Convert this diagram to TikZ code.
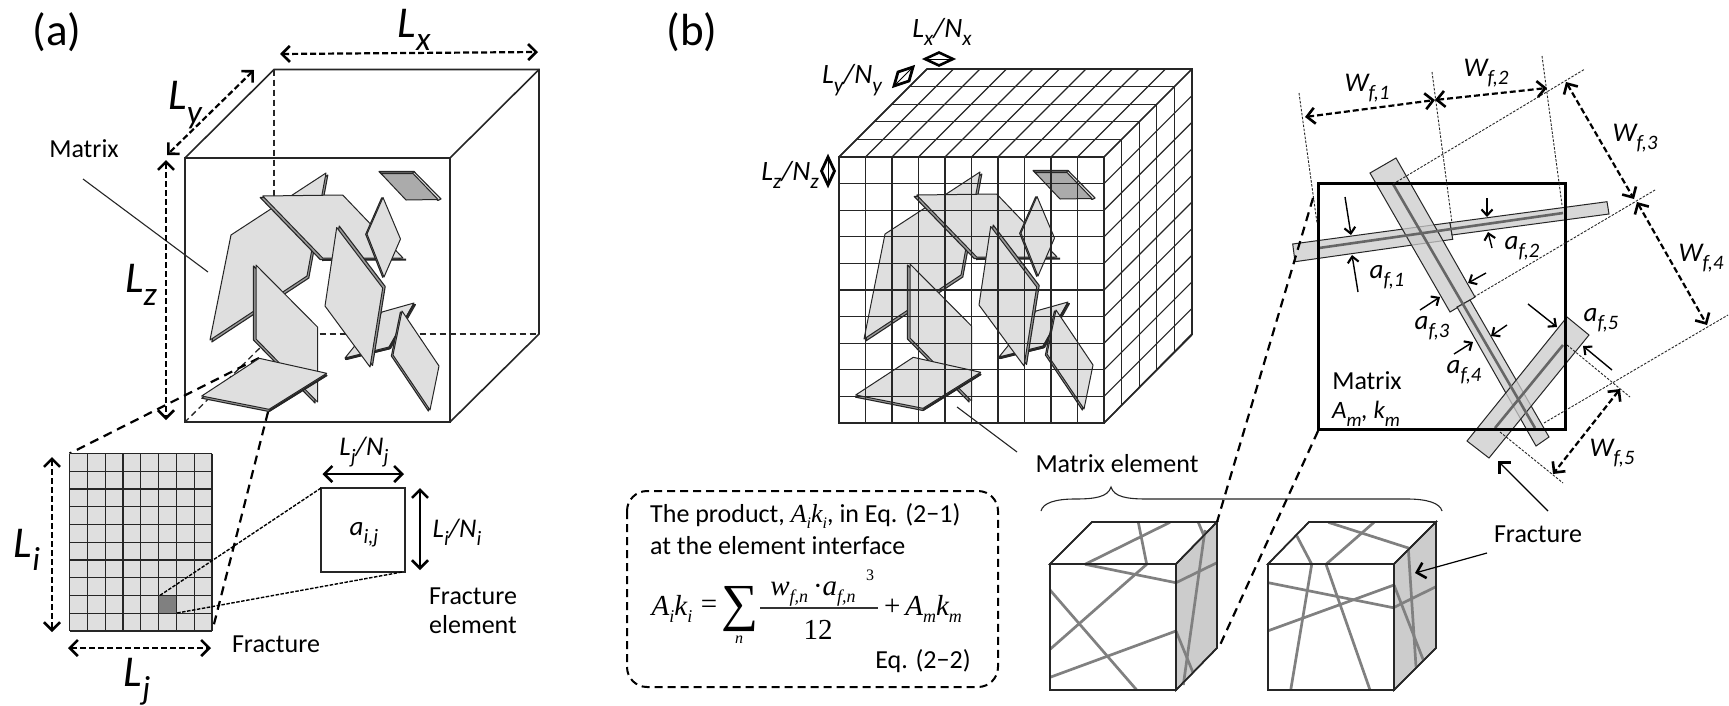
\documentclass[tikz,border=0pt]{standalone}
\usepackage{fontspec}
\setmainfont{Carlito}
\newfontfamily\tms{Liberation Serif}
\usetikzlibrary{arrows.meta}
\newcommand{\fz}[1]{\fontsize{#1}{#1}\selectfont}
\newcommand{\sbx}[1]{\raisebox{-.3em}{\scalebox{.76}{#1}}}
\newcommand{\sbt}[1]{\raisebox{-.22em}{\scalebox{.62}{#1}}}
\colorlet{edge}{black!85}
\definecolor{face}{HTML}{DFDFDF}
\definecolor{bevel}{HTML}{9A9A9A}
\tikzset{
 x=1pt,y=-1pt,
 plateface/.style={draw=edge,line width=1pt,fill=face,line join=round},
 plateback/.style={draw=edge,line width=1.1pt,fill=bevel,line join=round},
 cubeline/.style={draw=edge,line width=1.6pt,line join=miter},
 gridline/.style={draw=edge,line width=1.15pt},
 hiddenline/.style={draw=edge,line width=1.3pt,dash pattern=on 6pt off 4pt},
 zoomline/.style={draw=black,line width=2.2pt,dash pattern=on 9pt off 6pt},
 leader/.style={draw=edge,line width=1.1pt},
 thindash/.style={draw=edge,line width=.9pt,dash pattern=on 2.5pt off 1.5pt},
 midash/.style={draw=black,line width=1.4pt,dash pattern=on 3.5pt off 1.5pt},
 dimarrow/.style={draw=black,line width=2.2pt,dash pattern=on 6pt off 3pt,
   {Straight Barb[length=8pt,width=16pt,line width=2.6pt]}-{Straight Barb[length=8pt,width=16pt,line width=2.6pt]}},
 solidboth/.style={draw=black,line width=1.2pt,
   {Straight Barb[length=8pt,width=16pt,line width=2.6pt]}-{Straight Barb[length=8pt,width=16pt,line width=2.6pt]}},
 ptr/.style={draw=black,line width=1.4pt,-{Straight Barb[length=6pt,width=11pt,line width=2.1pt]}},
 bigptr/.style={draw=black,line width=1.2pt,-{Straight Barb[length=8pt,width=16pt,line width=2.6pt]}},
 big/.style={font=\fz{44}\itshape,inner sep=0pt},
 mid/.style={font=\fz{27}\itshape,inner sep=0pt},
 lab/.style={font=\fz{26},inner sep=0pt},
 panel/.style={font=\fz{45},inner sep=0pt},
 strip/.style={draw=edge,line width=1pt,fill=black!20,fill opacity=.75},
 coreline/.style={draw=black!60,line width=2.6pt},
 fracline/.style={draw=black!50,line width=2.7pt},
 eq/.style={font=\tms\itshape\fz{23},inner sep=0pt},
}
\newcommand{\plate}[2]{\draw[plateback,shift={(#1)}] #2 -- cycle; \draw[plateface] #2 -- cycle;}
\newcommand{\fractures}{%
 % A back hexagon
 \plate{1.8,2}{(231,235) -- (326,173) -- (307,276) -- (210,340)}
 % B
 \plate{-2.5,1.5}{(262.7,196) -- (342.7,195) -- (403,258) -- (322.7,258)}
 \draw[edge,line width=2pt] (322,260) -- (406,259.5);
 % E
 \plate{1.5,1.5}{(345,358) -- (382,312) -- (414,303) -- (389,347)}
 \draw[edge,line width=2pt] (345,359) -- (389,348.5) -- (414,304);
 % D
 \plate{2.5,-1.5}{(336.7,227.5) -- (325,306) -- (370,367) -- (382.7,288)}
 % C
 \plate{-1.3,.3}{(383,197.5) -- (367,234) -- (384,277) -- (400.5,239)}
 % F
 \plate{-1.6,1}{(402,311) -- (393,355) -- (430,410) -- (439,366)}
 % G
 \plate{-2.5,1}{(256,265) -- (256,339) -- (317.5,402) -- (317.5,327)}
 % H
 \plate{0,2.2}{(259.3,358.3) -- (326.7,373.3) -- (269,409.3) -- (201.7,396)}
 \draw[edge,line width=2pt] (269,411) -- (327,375);
 % dark small plate
 \draw[plateback,fill=black!60] (379,171.5) -- (414,171.5) -- (415,174.5) -- (382,174.5) -- cycle;
 \draw[plateback,fill=face] (414,171.5) -- (441,199) -- (438,200.5) -- (412,174) -- cycle;
 \draw[plateface,fill=black!33] (381,173.5) -- (413,173.5) -- (438,199.5) -- (406,200) -- cycle;
}
\begin{document}
\begin{tikzpicture}
\useasboundingbox (0,0) rectangle (1729,705);
\fill[white] (0,0) rectangle (1729,705);

%%%%%%%%%%% (a)
\node[panel] (pa) at (57,32) {(a)};
\coordinate (ac) at (274,334);
\draw[hiddenline] (274,69.5) -- (ac) -- (539,334);
\draw[hiddenline] (ac) -- (185,422);
\draw[cubeline] (185,158) rectangle (450,422);
\draw[cubeline] (185,158) -- (274,69.5) -- (539,69.5) -- (539,334) -- (450,422);
\draw[cubeline] (450,158) -- (539,69.5);
\coordinate (hc) at (259,358);
\coordinate (hd) at (268,412);
\coordinate (g1) at (69.6,453.5);
\coordinate (g2) at (212.5,630);
\draw[zoomline] (hc) -- (g1);
\fractures
\draw[zoomline] (hd) -- (g2);
\draw[leader] (83,179) -- (208,272);
\node[lab] (tm) at (84,149) {Matrix};
\draw[dimarrow] (280,54) -- (538,52);
\node[big] (tlx) at (414,30) {L\sbx{x}};
\draw[dimarrow] (254,70) -- (167,155);
\node[big] (tly) at (185,105) {L\sbx{y}};
\draw[dimarrow] (166,160) -- (166,420);
\node[big] (tlz) at (141,285) {L\sbx{z}};
% fracture grid
\fill[face] (69.6,453.5) rectangle (212,631);
\fill[black!50] (159,596) rectangle (177,613.5);
\foreach \i in {0,...,8} \draw[gridline,line width=1.3pt] (69.6+17.8*\i,453.5) -- (69.6+17.8*\i,631);
\foreach \j in {0,...,10} \draw[gridline,line width=1.3pt] (69.6,453.5+17.75*\j) -- (212,453.5+17.75*\j);
\draw[dimarrow] (52,457) -- (52,632);
\node[big] (tli) at (27,550) {L\sbx{i}};
\draw[dimarrow] (68,648) -- (211,648);
\node[big] (tlj) at (137,682) {L\sbx{j}};
\node[lab] (tfr) at (276,644) {Fracture};
\draw[cubeline] (321,488) rectangle (405,572);
\draw[midash] (321,488) -- (159,596);
\draw[midash] (402,572) -- (177,613);
\draw[solidboth] (322.5,474) -- (404,474);
\node[mid] (tljn) at (364,452) {L\sbx{j}/N\sbx{j}};
\draw[solidboth] (420,488) -- (420,570);
\node[mid] (tlin) at (457,532) {L\sbx{i}/N\sbx{i}};
\node[mid] (taij) at (364,535) {a\sbx{i,j}};
\node[lab,align=center] (tfe) at (473,611) {Fracture\\[3pt]element};

%%%%%%%%%%% (b)
\node[panel] (pb) at (692,32) {(b)};
\begin{scope}[shift={(654,-1)}]
\fractures
\end{scope}
\foreach \i in {0,...,10} {
 \draw[gridline] (839+26.5*\i,157) -- (839+26.5*\i,423);
 \draw[gridline] (839+26.5*\i,157) -- (927+26.5*\i,69);
 \draw[gridline] (839,157+26.6*\i) -- (1104,157+26.6*\i);
 \draw[gridline] (1104,157+26.6*\i) -- (1192,69+26.6*\i);
}
\foreach \k in {0,...,5} {
 \draw[gridline] (839+17.6*\k,157-17.6*\k) -- (1104+17.6*\k,157-17.6*\k);
 \draw[gridline] (1104+17.6*\k,157-17.6*\k) -- (1104+17.6*\k,423-17.6*\k);
}
\draw[cubeline] (839,157) rectangle (1104,423);
\draw[cubeline] (839,157) -- (927,69) -- (1192,69) -- (1192,334) -- (1104,423);
\node[mid,font=\fz{28}\itshape] (tlxn) at (942,32) {L\sbx{x}/N\sbx{x}};
\node[mid,font=\fz{28}\itshape] (tlyn) at (852,80) {L\sbx{y}/N\sbx{y}};
\node[mid,font=\fz{28}\itshape] (tlzn) at (790,175) {L\sbx{z}/N\sbx{z}};
\draw[black,line width=2.6pt,line join=miter] (925,59) -- (939,52.5) -- (953,59) -- (939,65.5) -- cycle;
\draw[black,line width=.9pt] (925,59) -- (953,59);
\draw[black,line width=2.8pt,line join=miter] (894,86) -- (898,72) -- (913,67) -- (909,81) -- cycle;
\draw[black,line width=.9pt] (894,86) -- (913,67);
\draw[black,line width=2.8pt,line join=miter] (828,157) -- (834.5,171) -- (828,185) -- (821.5,171) -- cycle;
\draw[black,line width=.9pt] (828,157) -- (828,185);
\draw[leader] (957,407) -- (1017,452);
\node[lab] (tme) at (1117,464) {Matrix element};
\draw[edge,line width=1.1pt] (1041,511) .. controls (1043,503) and (1055,499) .. (1075,499)
  .. controls (1095,499) and (1108,497) .. (1111,487)
  .. controls (1114,497) and (1127,499) .. (1147,499) -- (1407,499)
  .. controls (1427,499) and (1440,503) .. (1442,511);
% Equation box
\draw[black,line width=2pt,dash pattern=on 8pt off 5pt,rounded corners=20pt] (627,491) rectangle (998,687);
\node[lab,anchor=west] (te1) at (650,516) {The product, {\tms\itshape A\sbt{i}k\sbt{i}}, in Eq. (2−1)};
\node[lab,anchor=west] (te2) at (650,546) {at the element interface};
\node[eq,font=\tms\itshape\fz{29}] (tak) at (672,609) {A\sbt{i}k\sbt{i}};
\node[eq,font=\tms\fz{29}] (teq) at (709,607) {=};
\node[eq,font=\tms\fz{52}] (tsum) at (740,609) {∑};
\node[eq,font=\tms\itshape\fz{16}] (tn) at (739,640) {n};
\draw[black!80,line width=1.1pt] (760,608) -- (878,608);
\node[eq,font=\tms\itshape\fz{29}] (tnum) at (813,594) {w\sbt{f,n}\,{\upshape ·}a\sbt{f,n}};
\node[eq,font=\tms\fz{16}] (tcub) at (870,575) {3};
\node[eq,font=\tms\fz{29}] (t12) at (818,630) {12};
\node[eq,font=\tms\itshape\fz{29}] (tam) at (923,609) {{\upshape +}\,A\sbt{m}k\sbt{m}};
\node[lab] (te3) at (923,661) {Eq. (2−2)};
% elements
\draw[cubeline,fill=white] (1050,564) rectangle (1176,690);
\draw[cubeline,fill=white] (1050,564) -- (1092,522) -- (1217,522) -- (1176,564) -- cycle;
\draw[cubeline,fill=black!20] (1176,564) -- (1217,522) -- (1217,648) -- (1176,690) -- cycle;
\draw[fracline] (1085,564.3) -- (1170,522.3);
\draw[fracline] (1146.7,564.3) -- (1138.3,522.3);
\draw[fracline] (1198.3,522.3) -- (1204.3,536.7);
\draw[fracline] (1085,564.3) -- (1176,582.7);
\draw[fracline] (1146.7,564.3) -- (1050,649.3);
\draw[fracline] (1050,590) -- (1136.7,690);
\draw[fracline] (1050,677.3) -- (1176,631);
\draw[fracline] (1176,582.7) -- (1217,562.7);
\draw[fracline] (1205,530) -- (1183.3,685);
\draw[fracline] (1176,631) -- (1193.3,673.3);
\draw[cubeline] (1050,564) rectangle (1176,690);
\draw[cubeline] (1050,564) -- (1092,522) -- (1217,522) -- (1217,648) -- (1176,690);
\draw[cubeline] (1176,564) -- (1217,522);
\draw[cubeline,fill=white] (1268,564) rectangle (1394,690);
\draw[cubeline,fill=white] (1268,564) -- (1309,522) -- (1436,522) -- (1394,564) -- cycle;
\draw[cubeline,fill=black!20] (1394,564) -- (1436,522) -- (1436,648) -- (1394,690) -- cycle;
\draw[fracline] (1296.7,535.7) -- (1311.7,564.3);
\draw[fracline] (1326,564.3) -- (1374,522.3);
\draw[fracline] (1328.3,522.3) -- (1409.3,548.3);
\draw[fracline] (1311.7,564.3) -- (1290.7,690);
\draw[fracline] (1326,564.3) -- (1370,690);
\draw[fracline] (1268.3,582.7) -- (1393.3,607.7);
\draw[fracline] (1268.3,630.7) -- (1394,585);
\draw[fracline] (1393.3,607.7) -- (1436,586.7);
\draw[fracline] (1408.3,548.3) -- (1416,666.7);
\draw[fracline] (1394,585) -- (1423.3,660);
\draw[cubeline] (1268,564) rectangle (1394,690);
\draw[cubeline] (1268,564) -- (1309,522) -- (1436,522) -- (1436,648) -- (1394,690);
\draw[cubeline] (1394,564) -- (1436,522);
\draw[bigptr] (1487,553) -- (1415,573);
\node[lab] (tfb) at (1538,534) {Fracture};
% Matrix box and strips
\draw[black,line width=3pt] (1318,183) rectangle (1565,429);
\draw[strip] (1292.7,244) -- (1450,222.7) -- (1452.7,239.3) -- (1295,261.7) -- cycle;
\draw[strip] (1450,222.7) -- (1607,201.7) -- (1609,214) -- (1452,235) -- cycle;
\draw[strip] (1370,173) -- (1396,158) -- (1475,297) -- (1450,312) -- cycle;
\draw[strip] (1457,307) -- (1470,300) -- (1549,437) -- (1536,446) -- cycle;
\draw[strip] (1567,317) -- (1589,335) -- (1489,458) -- (1467,441) -- cycle;
\draw[coreline] (1319,248) -- (1563,213);
\draw[coreline] (1393,184) -- (1535,428);
\draw[coreline] (1563,345) -- (1495,428);
\draw[black,line width=3pt] (1318,183) rectangle (1565,429);
\draw[thindash] (1299,93) -- (1317,223);
\draw[thindash] (1432,72) -- (1452,223);
\draw[thindash] (1542,56) -- (1562,205);
\draw[thindash] (1393,184) -- (1585,69);
\draw[thindash] (1474,297) -- (1655,190);
\draw[thindash] (1544,423) -- (1728,315);
\draw[thindash] (1567,345) -- (1630,397);
\draw[thindash] (1500,432) -- (1563,483);
\draw[dimarrow] (1305,117) -- (1435,100);
\draw[dimarrow] (1435,100) -- (1547,88);
\draw[dimarrow] (1566,82) -- (1634,199);
\draw[dimarrow] (1637,202) -- (1707,325);
\draw[dimarrow] (1620,389) -- (1553,474);
\node[mid] (twa) at (1367,88) {W\sbx{f,1}};
\node[mid] (twb) at (1486,73) {W\sbx{f,2}};
\node[mid] (twc) at (1635,138) {W\sbx{f,3}};
\node[mid] (twd) at (1701,258) {W\sbx{f,4}};
\node[mid] (twe) at (1612,453) {W\sbx{f,5}};
\node[mid] (taa) at (1387,277) {a\sbx{f,1}};
\node[mid] (tab) at (1522,248) {a\sbx{f,2}};
\node[mid] (tac) at (1432,328) {a\sbx{f,3}};
\node[mid] (tad) at (1464,372) {a\sbx{f,4}};
\node[mid] (tae) at (1601,320) {a\sbx{f,5}};
\node[lab] (tmb) at (1367,381) {Matrix};
\node[mid,font=\fz{25}\itshape] (tamk) at (1366,414) {A\sbx{m}, k\sbx{m}};
\draw[ptr] (1345,197) -- (1351,235);
\draw[ptr] (1358,292) -- (1352,255);
\draw[ptr] (1487,198) -- (1487,217);
\draw[ptr] (1492,248) -- (1488,232);
\draw[ptr] (1486,273) -- (1468,283);
\draw[ptr] (1420,310) -- (1440,297);
\draw[ptr] (1507,325) -- (1491,336);
\draw[ptr] (1454,354) -- (1473,342);
\draw[ptr] (1528,304) -- (1557,327);
\draw[ptr] (1612,370) -- (1583,346);
\draw[bigptr] (1548,511) -- (1498,461);
\coordinate (m1) at (1318,183);
\coordinate (m2) at (1318,431);
\draw[zoomline] (1313,198) -- (1217,522);
\draw[zoomline] (m2) -- (1220,645);
\end{tikzpicture}
\end{document}
